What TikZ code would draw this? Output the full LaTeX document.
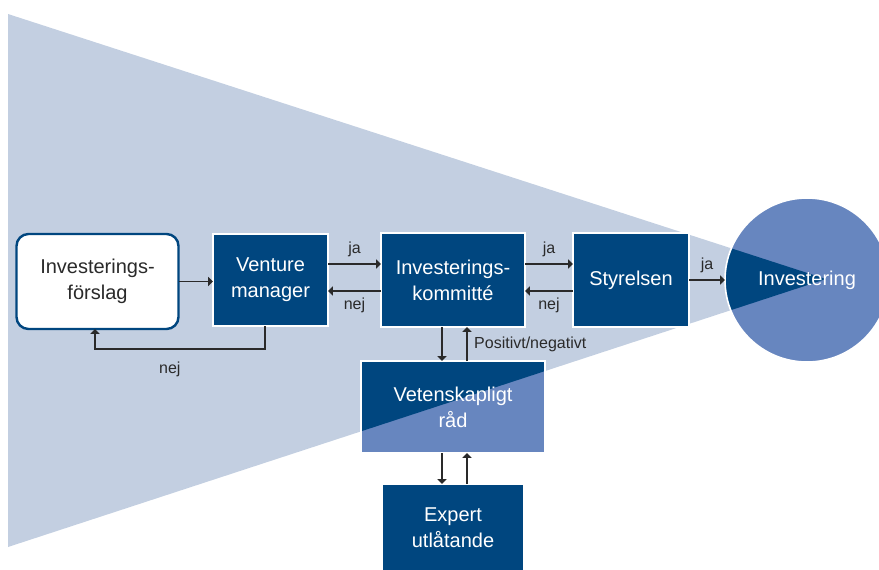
\documentclass[tikz,border=0pt]{standalone}
\usepackage{fontspec}
\setmainfont{Liberation Sans}
\usetikzlibrary{arrows.meta}
\definecolor{morkbla}{HTML}{00467F}
\definecolor{mellanbla}{HTML}{6786BF}
\definecolor{ljusbla}{HTML}{C3CFE1}
\definecolor{linje}{HTML}{2A2A2A}
\begin{document}
\begin{tikzpicture}[x=0.5pt, y=-0.5pt,
    every node/.style={font=\fontsize{10}{13}\selectfont},
    ruta/.style={draw=white, line width=0.8pt, fill=morkbla, text=white, align=center, inner sep=0pt, outer sep=0pt},
    pil/.style={draw=linje, line width=0.55pt, -{Triangle[length=2.4pt,width=4.6pt]}},
    etikett/.style={font=\fontsize{8}{9.6}\selectfont, text=linje}]
    \useasboundingbox (0,0) rectangle (879,569);

    % Trattformen
    \coordinate (topp) at (8,14);
    \coordinate (spets) at (826,279);
    \coordinate (botten) at (8,547);
    \fill[ljusbla] (topp) -- (spets) -- (botten) -- cycle;

    % Investering
    \fill[mellanbla] (807,280) circle[radius=41pt];
    \begin{scope}
        \clip (807,280) circle[radius=41pt];
        \fill[morkbla] (topp) -- (spets) -- (botten) -- cycle;
    \end{scope}
    \node[circle, draw=white, line width=0.8pt, minimum size=82pt, inner sep=0pt, outer sep=0pt, text=white] (investering) at (807,280) {Investering};

    % Rutorna
    \node[ruta, fill=white, draw=morkbla, line width=1.2pt, rounded corners=6pt, text=linje, minimum width=81pt, minimum height=47.5pt] (forslag) at (97.5,281.5) {Investerings-\\förslag};
    \node[ruta, minimum width=57.5pt, minimum height=46pt] (venture) at (270.5,280) {Venture\\manager};
    \node[ruta, minimum width=72pt, minimum height=47pt] (kommitte) at (453,280) {Investerings-\\kommitté};
    \node[ruta, minimum width=58pt, minimum height=47pt] (styrelsen) at (631,280) {Styrelsen};
    \node[ruta, minimum width=70.5pt, minimum height=44pt] (expert) at (453,528) {Expert\\utlåtande};

    % Vetenskapligt råd, delvis i tratten
    \node[ruta, fill=mellanbla, minimum width=92pt, minimum height=46pt] (rad) at (453,407) {};
    \begin{scope}
        \clip (rad.south west) rectangle (rad.north east);
        \fill[morkbla] (topp) -- (spets) -- (botten) -- cycle;
    \end{scope}
    \draw[white, line width=0.8pt] (rad.south west) rectangle (rad.north east);
    \node[text=white, align=center] at (rad) {Vetenskapligt\\råd};

    % Pilar
    \draw[pil] (forslag.east) -- (forslag.east -| venture.west);
    \draw[pil] ([yshift=8pt]venture.east) -- node[etikett, above] {ja} ([yshift=8pt]kommitte.west);
    \draw[pil] ([yshift=-5.5pt]kommitte.west) -- node[etikett, below] {nej} ([yshift=-5.5pt]venture.east);
    \draw[pil] ([yshift=8pt]kommitte.east) -- node[etikett, above] {ja} ([yshift=8pt]styrelsen.west);
    \draw[pil] ([yshift=-5.5pt]styrelsen.west) -- node[etikett, below] {nej} ([yshift=-5.5pt]kommitte.east);
    \draw[pil] (styrelsen.east) -- node[etikett, above] {ja} (investering.west);
    \draw[pil] ([xshift=-2.75pt]venture.south) -- ++(0,23) -| node[etikett, pos=0.28, below=3pt] {nej} ([xshift=-1.25pt]forslag.south);

    \draw[pil] ([xshift=-5.5pt]kommitte.south) -- ([xshift=-5.5pt]rad.north);
    \draw[pil] ([xshift=7pt]rad.north) -- node[etikett, right] {Positivt/negativt} ([xshift=7pt]kommitte.south);
    \draw[pil] ([xshift=-5.5pt]rad.south) -- ([xshift=-5.5pt]expert.north);
    \draw[pil] ([xshift=7pt]expert.north) -- ([xshift=7pt]rad.south);
\end{tikzpicture}
\end{document}
